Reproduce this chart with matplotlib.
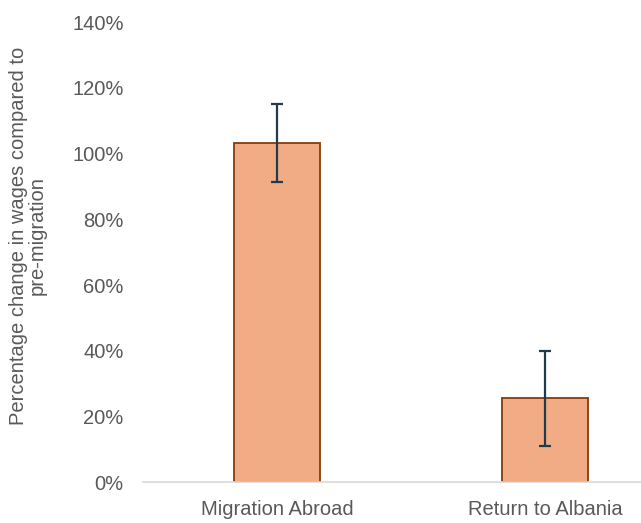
import matplotlib
matplotlib.use("Agg")
import matplotlib.pyplot as plt
from matplotlib.ticker import PercentFormatter

categories = ["Migration Abroad", "Return to Albania"]
values = [103.3, 25.6]
err_low = [12.1, 14.6]
err_high = [11.8, 14.3]
yticks = [0, 20, 40, 60, 80, 100, 120, 140]

plt.rcParams['font.family'] = ['Liberation Sans', 'DejaVu Sans']

fig = plt.figure(figsize=(6.41, 5.23), dpi=100)
ax = fig.add_axes([143 / 641, 40.7 / 523, 536 / 641, 460.3 / 523])

x = range(len(categories))
ax.bar(x, values, width=0.32, color='#F2AC85', edgecolor='#843C0C', linewidth=1.3,
       zorder=2)
ax.errorbar(x, values, yerr=[err_low, err_high], fmt='none', ecolor='#203B4A',
            elinewidth=1.6, capsize=4, capthick=1.6, zorder=3)

ax.set_xlim(-0.5, 1.5)
ax.set_ylim(0, 140)
ax.set_yticks(yticks)
ax.yaxis.set_major_formatter(PercentFormatter(decimals=0))
ax.set_xticks(list(x))
ax.set_xticklabels(categories)

for side in ['top', 'right', 'left']:
    ax.spines[side].set_visible(False)
ax.spines['bottom'].set_color('#D9D9D9')
ax.spines['bottom'].set_linewidth(1.2)
ax.tick_params(axis='both', length=0, labelsize=14.5, colors='#595959')
ax.tick_params(axis='y', pad=14)
ax.tick_params(axis='x', pad=13)

fig.text(28 / 641, 0.549, "Percentage change in wages compared to\npre-migration",
         rotation=90, ha='center', va='center', fontsize=14.5, color='#595959',
         multialignment='center', linespacing=1.0)

fig.savefig("out.png", dpi=100)
